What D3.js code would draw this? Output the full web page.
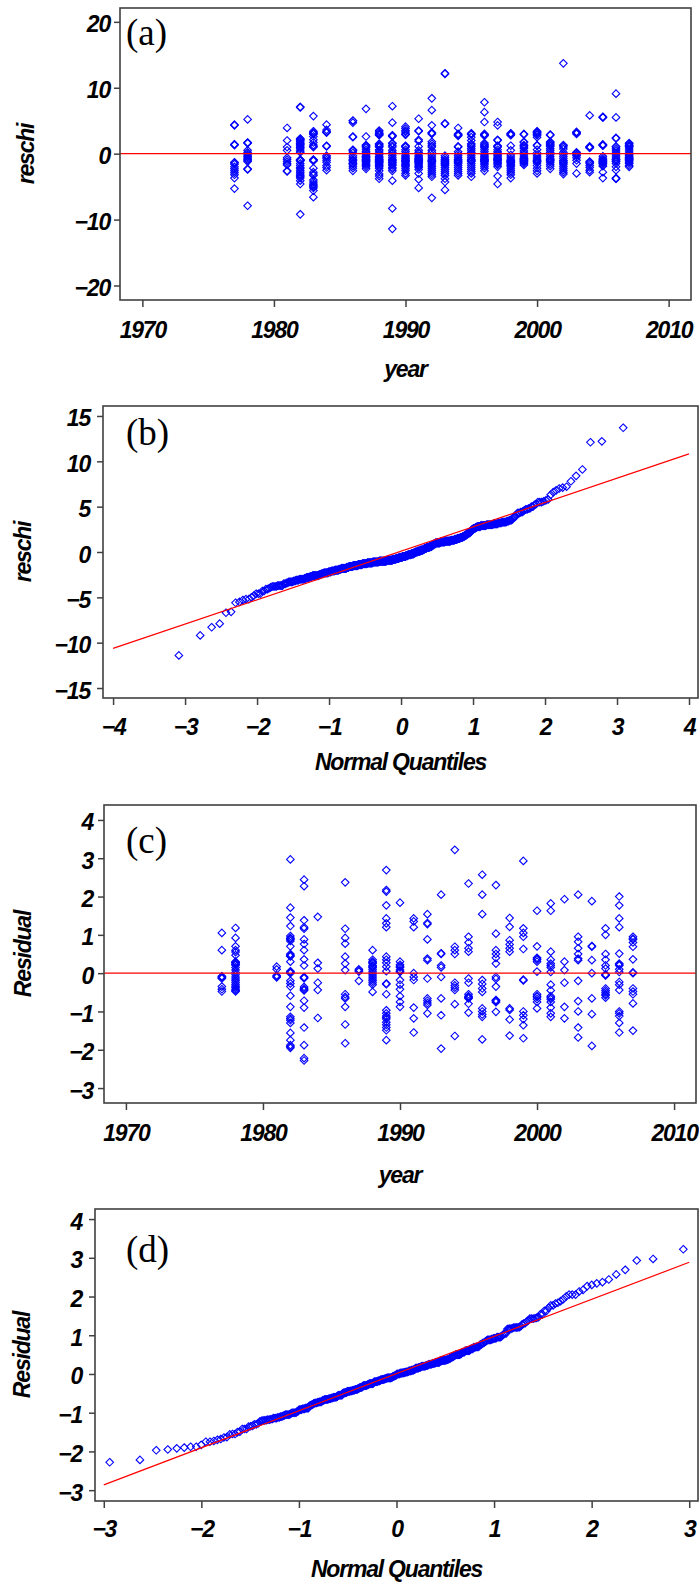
<!DOCTYPE html>
<html>
<head>
<meta charset="utf-8">
<script src="https://cdn.jsdelivr.net/npm/d3@7"></script>
<style>
  body { margin: 0; background: #fff; }
  .tick text, .axis-title {
    font-family: "Liberation Sans", Arial, sans-serif;
    font-weight: bold; font-style: italic; font-size: 23px;
    letter-spacing: -1.2px; fill: #000;
  }
  .panel-label { font-family: "Liberation Serif", "Times New Roman", serif; font-size: 37px; fill: #000; }
</style>
</head>
<body>
<script>
// years shared by the two scatter panels
const years = [1977, 1978, 1981, 1982, 1983, 1984, 1986, 1987, 1988, 1989, 1990, 1991, 1992, 1993,
               1994, 1995, 1996, 1997, 1998, 1999, 2000, 2001, 2002, 2003, 2004, 2005, 2006, 2007];

// (a) chi residuals, one list per year
const reschiByYear = [
  [4.4, 4.3, 1.4, 1.4, 1.3, -1.3, -1.4, -1.6, -2.0, -2.3, -2.6, -2.9, -3.2, -3.7, -5.3],
  [5.2, 1.7, 1.6, 1.6, 0.5, 0.2, 0.0, -0.2, -0.4, -0.5, -0.7, -0.9, -1.0, -1.2, -2.3, -2.4, -7.9],
  [3.9, 2.0, 1.0, 0.5, -0.6, -0.9, -1.2, -1.5, -1.7, -2.6, -2.7],
  [7.1, 7.0, 2.3, 2.2, 2.1, 2.0, 1.8, 1.6, 1.5, 1.4, 1.2, 1.0, 0.9, 0.7, 0.4, 0.2, -0.9, -0.95, -1.0, -1.05, -1.1, -1.5, -1.8, -2.1, -2.3, -2.6, -2.8, -3.1, -3.3, -3.5, -3.7, -4.1, -4.6, -9.2],
  [5.7, 3.4, 3.2, 3.1, 3.0, 3.0, 2.6, 2.1, 1.7, 1.3, 1.1, 1.0, -0.9, -0.95, -1.0, -1.1, -2.2, -2.8, -3.1, -3.3, -4.0, -4.3, -4.6, -4.8, -5.0, -5.2, -5.6, -6.6],
  [4.4, 3.6, 3.3, 3.3, 3.2, 1.2, 1.1, -0.3, -0.5, -0.7, -1.0, -1.3, -1.8, -2.1, -2.5],
  [5.0, 5.0, 4.7, 2.6, 2.5, 0.6, 0.5, 0.4, 0.1, -0.3, -0.6, -0.9, -1.0, -1.1, -1.4, -1.5, -1.6, -1.9, -2.2, -2.6],
  [6.8, 2.6, 1.3, 1.2, 1.1, 0.9, 0.6, 0.3, 0.1, -0.2, -0.4, -0.5, -0.6, -0.8, -0.9, -1.0, -1.1, -1.2, -1.4, -1.6, -1.8, -2.0, -2.3],
  [3.5, 3.3, 3.1, 3.0, 2.9, 2.8, 1.5, 1.4, 1.2, 1.1, 1.0, 0.6, 0.4, 0.1, -0.1, -0.4, -0.6, -0.8, -0.9, -1.0, -1.1, -1.2, -1.3, -1.4, -1.6, -1.8, -2.0, -2.2, -2.6, -3.1, -3.4, -3.8],
  [7.2, 4.7, 2.8, 2.7, 2.6, 1.6, 1.5, 1.2, 1.0, 0.5, 0.2, 0.0, -0.3, -0.6, -0.9, -1.0, -1.1, -1.3, -1.4, -1.6, -1.8, -2.1, -2.3, -2.6, -4.1, -8.3, -11.4],
  [4.1, 3.8, 3.5, 3.3, 3.0, 2.9, 2.9, 1.2, 1.1, 1.0, 0.6, 0.3, 0.0, -0.3, -0.5, -0.7, -0.8, -1.0, -1.1, -1.2, -1.4, -1.6, -1.8, -2.0, -2.3, -2.6, -3.0, -3.3],
  [5.3, 3.5, 3.4, 2.1, 1.9, 1.1, 0.5, 0.2, 0.0, -0.3, -0.5, -0.7, -0.8, -0.9, -1.0, -1.1, -1.2, -1.3, -1.5, -1.7, -1.9, -2.1, -2.4, -3.0, -3.9, -5.2],
  [8.4, 6.6, 4.3, 3.2, 3.1, 3.0, 1.8, 1.5, 1.2, 1.0, 0.5, 0.2, -0.2, -0.5, -0.8, -1.0, -1.1, -1.2, -1.4, -1.7, -2.0, -2.3, -2.6, -2.9, -3.2, -3.5, -6.7],
  [12.2, 12.1, 4.6, 4.5, -0.3, -0.6, -0.9, -1.0, -1.2, -1.3, -1.5, -1.6, -1.8, -2.1, -2.4, -2.7, -3.0, -3.3, -3.8, -4.3, -5.5],
  [3.9, 3.0, 2.9, 2.8, 2.7, 1.1, 1.0, 0.3, 0.0, -0.3, -0.6, -0.9, -1.0, -1.2, -1.3, -1.5, -1.8, -2.1, -2.4, -2.7, -3.0, -3.3],
  [3.1, 3.0, 2.9, 2.5, 2.0, 1.5, 1.3, 1.1, 0.8, 0.5, 0.2, 0.0, -0.3, -0.6, -0.9, -1.0, -1.1, -1.2, -1.5, -1.8, -2.1, -2.4, -2.7, -3.0, -3.5],
  [7.8, 6.3, 4.8, 3.0, 2.9, 2.8, 2.7, 1.6, 1.4, 1.2, 1.1, 0.9, 0.6, 0.3, 0.0, -0.2, -0.4, -0.6, -0.8, -0.9, -1.0, -1.1, -1.2, -1.4, -1.6, -1.9, -2.2, -2.6],
  [4.8, 4.3, 2.1, 2.0, 1.2, 1.1, 1.0, 0.6, 0.3, 0.1, -0.1, -0.3, -0.5, -0.7, -0.8, -0.9, -1.0, -1.1, -1.3, -1.5, -1.7, -2.0, -3.4, -4.6],
  [3.1, 3.0, 2.9, 2.8, 1.2, 0.5, -0.2, -0.5, -0.8, -1.0, -1.1, -1.2, -1.3, -1.4, -1.6, -1.8, -2.0, -2.3, -2.6, -2.9, -3.2, -3.7],
  [3.0, 2.9, 1.8, 1.7, 1.3, 1.2, 1.0, 0.8, 0.4, 0.1, -0.2, -0.5, -0.7, -0.8, -0.9, -1.0, -1.1, -1.2, -1.3, -1.5, -1.7],
  [3.4, 3.3, 3.2, 3.1, 2.9, 2.8, 2.5, 1.3, 1.2, 0.6, 0.1, -0.2, -0.5, -0.8, -1.0, -1.1, -1.2, -1.4, -1.8, -2.2, -2.6, -3.0],
  [2.9, 2.8, 1.8, 1.7, 1.5, 1.4, 1.2, 1.1, 0.8, 0.5, 0.2, -0.1, -0.4, -0.7, -0.9, -1.0, -1.1, -1.3, -1.6, -1.9, -2.3],
  [13.7, 1.3, 1.2, 1.0, 0.7, 0.2, -0.1, -0.4, -0.7, -1.0, -1.1, -1.3, -1.4, -1.6, -1.9, -2.2, -2.5, -2.8, -3.1],
  [3.3, 3.2, 3.1, 3.0, 0.2, 0.1, 0.0, -0.2, -0.3, -0.6, -1.0, -1.5, -3.0],
  [5.8, 1.1, 1.0, 0.9, 0.9, -1.2, -1.3, -1.5, -1.8, -2.1, -2.5, -2.8],
  [5.6, 5.5, 5.5, 1.4, 1.3, 1.3, 1.2, -0.4, -0.7, -0.9, -1.0, -1.1, -1.2, -1.3, -1.4, -1.5, -1.7, -1.9, -2.8, -3.7],
  [9.1, 5.5, 2.4, 2.3, 1.1, 1.0, 0.7, 0.4, 0.1, -0.2, -0.5, -0.8, -0.9, -1.1, -1.2, -1.5, -2.0, -2.5, -3.7, -3.8, -3.8],
  [1.6, 1.5, 1.3, 1.2, 1.1, 1.0, 0.7, 0.4, 0.1, -0.1, -0.3, -0.5, -0.6, -0.7, -0.8, -0.9, -1.0, -1.1, -1.3, -1.5, -1.8, -2.0]
];

// (c) residuals, one list per year
const residualByYear = [
  [1.05, 0.6, -0.08, -0.1, -0.12, -0.14, -0.35, -0.42, -0.48],
  [1.18, 0.92, 0.7, 0.6, 0.55, 0.47, 0.3, 0.28, 0.27, 0.24, 0.22, 0.21, 0.15, 0.08, 0.02, -0.04, -0.1, -0.15, -0.2, -0.25, -0.3, -0.34, -0.38, -0.42, -0.45, -0.48],
  [0.17, 0.1, -0.06, -0.09, -0.11],
  [2.97, 1.71, 1.45, 1.23, 0.97, 0.92, 0.9, 0.88, 0.84, 0.7, 0.5, 0.47, 0.45, 0.44, 0.3, 0.05, 0.03, 0.02, 0.0, -0.2, -0.27, -0.35, -0.59, -0.88, -1.14, -1.19, -1.23, -1.3, -1.56, -1.75, -1.88, -1.92, -1.95],
  [2.44, 2.27, 1.38, 1.2, 1.16, 0.88, 0.76, 0.6, 0.36, 0.2, -0.1, -0.12, -0.13, -0.36, -0.4, -0.43, -0.45, -0.72, -0.9, -1.42, -1.88, -2.22, -2.28],
  [1.47, 0.27, 0.12, -0.25, -0.44, -1.17],
  [2.37, 1.16, 0.92, 0.77, 0.43, 0.25, 0.08, -0.55, -0.62, -0.66, -0.88, -1.34, -1.83],
  [0.1, 0.07, 0.04, -0.2],
  [0.6, 0.35, 0.3, 0.28, 0.25, 0.2, 0.17, 0.15, 0.1, 0.05, 0.0, -0.05, -0.1, -0.15, -0.2, -0.25, -0.3, -0.49],
  [2.69, 2.17, 2.13, 1.77, 1.43, 1.3, 1.2, 0.43, 0.35, 0.27, 0.17, 0.05, -0.27, -0.29, -0.55, -0.97, -1.05, -1.12, -1.16, -1.2, -1.28, -1.35, -1.42, -1.49, -1.75],
  [1.84, 0.3, 0.22, 0.18, 0.15, 0.08, 0.05, 0.03, -0.18, -0.3, -0.42, -0.6, -0.75, -0.88],
  [1.43, 1.35, 1.2, 0.0, -0.1, -0.18, -0.9, -1.18, -1.55],
  [1.54, 1.31, 1.28, 0.88, 0.38, 0.34, -0.14, -0.66, -0.72, -0.78, -0.83, -1.05],
  [2.05, 0.52, 0.5, 0.2, 0.15, -0.1, -0.66, -1.1, -1.97],
  [3.22, 0.69, 0.6, 0.5, -0.25, -0.32, -0.38, -0.44, -0.81, -1.64],
  [2.34, 0.95, 0.8, 0.65, 0.56, -0.14, -0.25, -0.55, -0.6, -0.62, -0.64, -0.66, -0.8, -1.03],
  [2.57, 2.05, 1.54, -0.18, -0.28, -0.4, -0.49, -0.92, -1.0, -1.08, -1.14, -1.73],
  [2.3, 1.03, 0.6, 0.5, 0.4, 0.25, -0.1, -0.15, -0.35, -0.7, -0.72, -0.73, -0.76, -1.01],
  [1.44, 1.21, 0.86, 0.75, 0.65, 0.56, -0.92, -0.96, -1.21, -1.63],
  [2.93, 1.17, 1.05, 0.95, 0.63, -0.17, -0.19, -1.0, -1.1, -1.2, -1.36, -1.7],
  [1.63, 0.7, 0.4, 0.37, 0.35, 0.3, 0.04, -0.55, -0.6, -0.62, -0.68, -0.75, -0.92],
  [1.82, 1.63, 0.56, 0.35, 0.25, 0.2, 0.15, 0.03, -0.3, -0.45, -0.6, -0.64, -0.68, -0.75, -0.9, -1.05, -1.14],
  [1.93, 0.3, 0.08, -0.25, -0.88, -1.18],
  [2.05, 0.95, 0.82, 0.65, 0.5, 0.38, 0.34, -0.2, -0.73, -1.0, -1.42, -1.68],
  [1.88, 0.71, 0.69, 0.34, 0.0, -0.66, -1.07, -1.9],
  [1.17, 1.0, 0.5, 0.35, 0.2, 0.12, -0.03, -0.05, -0.06, -0.4, -0.45, -0.5, -0.55, -0.58, -0.64],
  [2.0, 1.77, 1.43, 1.2, 0.51, 0.25, 0.22, 0.2, 0.1, 0.03, -0.23, -0.3, -0.44, -1.0, -1.05, -1.12, -1.3, -1.55],
  [0.95, 0.9, 0.88, 0.8, 0.69, 0.36, 0.02, 0.0, -0.4, -0.48, -0.55, -0.79, -1.5]
];

// fitted normal reference lines of the Q-Q plots (mu, sigma)
const refLineB = [0.095, 2.68];
const refLineD = [0.01, 0.958];

// tick values
const yearTicks = [1970, 1980, 1990, 2000, 2010];
const ticksA = [-20, -10, 0, 10, 20];
const ticksB = [-15, -10, -5, 0, 5, 10, 15];
const quantTicksB = [-4, -3, -2, -1, 0, 1, 2, 3, 4];
const ticksC = [-3, -2, -1, 0, 1, 2, 3, 4];
const quantTicksD = [-3, -2, -1, 0, 1, 2, 3];

const svg = d3.select("body").append("svg").attr("width", 699).attr("height", 1582);
const fmt = d3.format("d");
const diamond = (r) => "M0," + (-r) + "L" + r + ",0L0," + r + "L" + (-r) + ",0Z";

// inverse normal cdf (Acklam)
function qnorm(p) {
  const a = [-3.969683028665376e+01, 2.209460984245205e+02, -2.759285104469687e+02, 1.383577518672690e+02, -3.066479806614716e+01, 2.506628277459239e+00];
  const b = [-5.447609879822406e+01, 1.615858368580409e+02, -1.556989798598866e+02, 6.680131188771972e+01, -1.328068155288572e+01];
  const c = [-7.784894002430293e-03, -3.223964580411365e-01, -2.400758277161838e+00, -2.549732539343734e+00, 4.374664141464968e+00, 2.938163982698783e+00];
  const d = [7.784695709041462e-03, 3.224671290700398e-01, 2.445134137142996e+00, 3.754408661907416e+00];
  const plow = 0.02425;
  let q, r;
  if (p < plow) {
    q = Math.sqrt(-2 * Math.log(p));
    return (((((c[0] * q + c[1]) * q + c[2]) * q + c[3]) * q + c[4]) * q + c[5]) / ((((d[0] * q + d[1]) * q + d[2]) * q + d[3]) * q + 1);
  }
  if (p > 1 - plow) {
    q = Math.sqrt(-2 * Math.log(1 - p));
    return -(((((c[0] * q + c[1]) * q + c[2]) * q + c[3]) * q + c[4]) * q + c[5]) / ((((d[0] * q + d[1]) * q + d[2]) * q + d[3]) * q + 1);
  }
  q = p - 0.5; r = q * q;
  return (((((a[0] * r + a[1]) * r + a[2]) * r + a[3]) * r + a[4]) * r + a[5]) * q / (((((b[0] * r + b[1]) * r + b[2]) * r + b[3]) * r + b[4]) * r + 1);
}

//scatter points (year, value)
const byYear = (lists) => lists.flatMap((vals, i) => vals.map((v) => ({ x: years[i], y: v })));

//Q-Q points with Blom positions
const qq = (lists) => {
  const s = lists.flat().sort(d3.ascending);
  const n = s.length;
  return s.map((v, i) => ({ x: qnorm((i + 1 - 0.375) / (n + 0.25)), y: v }));
};

function panel(p) {
  const x = d3.scaleLinear().domain(p.xDomain).range([p.left, p.right]);
  const y = d3.scaleLinear().domain(p.yDomain).range([p.bottom, p.top]);
  const g = svg.append("g").attr("color", "#404040");

  const xa = g.append("g").attr("transform", "translate(0," + p.bottom + ")")
    .call(d3.axisBottom(x).tickValues(p.xTicks).tickSize(7).tickSizeOuter(0).tickFormat(fmt));
  xa.select(".domain").remove();
  xa.selectAll(".tick line").attr("stroke-width", 1.5);
  xa.selectAll(".tick text").attr("y", p.xLabY).attr("dy", null);

  const ya = g.append("g").attr("transform", "translate(" + p.left + ",0)")
    .call(d3.axisLeft(y).tickValues(p.yTicks).tickSize(6).tickSizeOuter(0).tickFormat(fmt));
  ya.select(".domain").remove();
  ya.selectAll(".tick line").attr("stroke-width", 1.5);
  ya.selectAll(".tick text").attr("x", -p.yLabGap).attr("dy", 10);

  //points
  g.append("g").selectAll("path")
    .data(p.points)
    .join("path")
    .attr("d", diamond(3.8))
    .attr("fill", "none")
    .attr("stroke", "#0000ff")
    .attr("stroke-width", 1.1)
    .attr("transform", (d) => "translate(" + x(d.x) + "," + y(d.y) + ")");

  //reference line
  let x0, x1, y0, y1;
  if (p.line) {
    x0 = p.xTicks[0]; x1 = p.xTicks[p.xTicks.length - 1];
    y0 = p.line[0] + p.line[1] * x0; y1 = p.line[0] + p.line[1] * x1;
  } else {
    x0 = p.xDomain[0]; x1 = p.xDomain[1]; y0 = 0; y1 = 0;
  }
  g.append("line")
    .attr("x1", x(x0)).attr("y1", y(y0)).attr("x2", x(x1)).attr("y2", y(y1))
    .attr("stroke", "#ff0000").attr("stroke-width", 1.2);

  //frame
  g.append("rect")
    .attr("x", p.left).attr("y", p.top)
    .attr("width", p.right - p.left).attr("height", p.bottom - p.top)
    .attr("fill", "none").attr("stroke", "#404040").attr("stroke-width", 1.6);

  //titles
  g.append("text").attr("class", "axis-title")
    .attr("x", (p.left + p.right) / 2).attr("y", p.bottom + p.xTitleY)
    .attr("text-anchor", "middle").text(p.xTitle);
  g.append("text").attr("class", "axis-title")
    .attr("transform", "translate(" + p.yTitleX + "," + (p.top + p.bottom) / 2 + ") rotate(-90)")
    .attr("text-anchor", "middle").text(p.yTitle);
  g.append("text").attr("class", "panel-label")
    .attr("x", 126).attr("y", p.top + p.labelY).text(p.label);
}

panel({ label: "(a)", left: 120, right: 691, top: 8, bottom: 300, labelY: 37,
  xDomain: [1968.3, 2011.7], yDomain: [-22.2, 22.1], xTicks: yearTicks, yTicks: ticksA,
  xLabY: 38, yLabGap: 10, xTitle: "year", xTitleY: 77, yTitle: "reschi", yTitleX: 34,
  points: byYear(reschiByYear) });

panel({ label: "(b)", left: 103, right: 698, top: 406, bottom: 698, labelY: 39,
  xDomain: [-4.14, 4.125], yDomain: [-16.1, 16.1], xTicks: quantTicksB, yTicks: ticksB,
  xLabY: 37, yLabGap: 13, xTitle: "Normal Quantiles", xTitleY: 72, yTitle: "reschi", yTitleX: 31,
  points: qq(reschiByYear), line: refLineB });

panel({ label: "(c)", left: 104, right: 696, top: 805, bottom: 1103, labelY: 48,
  xDomain: [1968.4, 2011.6], yDomain: [-3.39, 4.39], xTicks: yearTicks, yTicks: ticksC,
  xLabY: 38, yLabGap: 11, xTitle: "year", xTitleY: 80, yTitle: "Residual", yTitleX: 31,
  points: byYear(residualByYear) });

panel({ label: "(d)", left: 95, right: 698, top: 1209, bottom: 1501, labelY: 53,
  xDomain: [-3.09, 3.09], yDomain: [-3.28, 4.26], xTicks: quantTicksD, yTicks: ticksC,
  xLabY: 36, yLabGap: 13, xTitle: "Normal Quantiles", xTitleY: 76, yTitle: "Residual", yTitleX: 30,
  points: qq(residualByYear), line: refLineD });
</script>
</body>
</html>
